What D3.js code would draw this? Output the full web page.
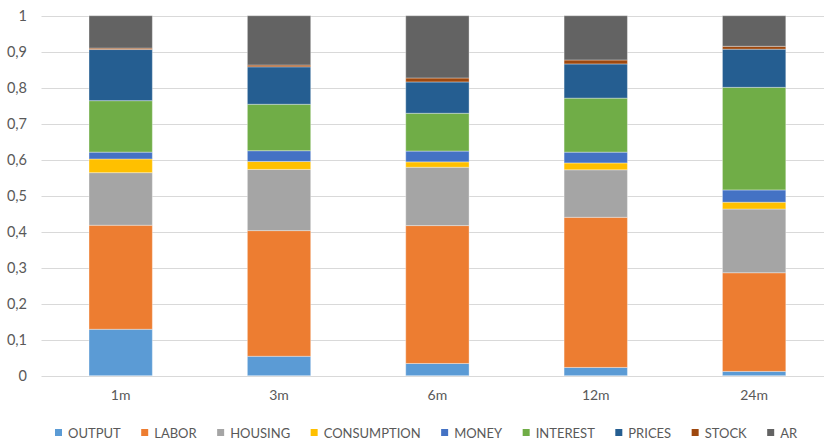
<!DOCTYPE html>
<html>
<head>
<meta charset="utf-8">
<script src="https://cdn.jsdelivr.net/npm/d3@7"></script>
<style>
  html, body { margin: 0; padding: 0; background: #ffffff; }
  svg { display: block; }
  text { font-family: Lato, "Open Sans", "Liberation Sans", sans-serif; }
</style>
</head>
<body>
<svg id="chart" width="824" height="446"></svg>
<script>
// ---- data ----
const categories = ["1m", "3m", "6m", "12m", "24m"];
const seriesNames = ["OUTPUT", "LABOR", "HOUSING", "CONSUMPTION", "MONEY", "INTEREST", "PRICES", "STOCK", "AR"];
const OUTPUT      = [0.129, 0.054, 0.034, 0.023, 0.012];
const LABOR       = [0.289, 0.349, 0.383, 0.417, 0.274];
const HOUSING     = [0.146, 0.170, 0.162, 0.132, 0.177];
const CONSUMPTION = [0.038, 0.022, 0.015, 0.019, 0.019];
const MONEY       = [0.019, 0.030, 0.030, 0.030, 0.034];
const INTEREST    = [0.143, 0.129, 0.105, 0.150, 0.285];
const PRICES      = [0.142, 0.104, 0.087, 0.095, 0.106];
const STOCK       = [0.004, 0.005, 0.011, 0.011, 0.008];
const AR          = [0.090, 0.137, 0.173, 0.123, 0.085];
const yTicks = [0, 0.1, 0.2, 0.3, 0.4, 0.5, 0.6, 0.7, 0.8, 0.9, 1];
const colors = ["#5B9BD5", "#ED7D31", "#A5A5A5", "#FFC000", "#4472C4", "#70AD47", "#255E91", "#9E480E", "#636363"];

const seriesValues = [OUTPUT, LABOR, HOUSING, CONSUMPTION, MONEY, INTEREST, PRICES, STOCK, AR];
const table = categories.map((c, i) => {
  const row = { cat: c };
  seriesNames.forEach((s, j) => row[s] = seriesValues[j][i]);
  return row;
});

// ---- layout ----
const svg = d3.select("#chart");
const plotLeft = 41.5, plotRight = 833.3, plotTop = 15.7, plotBottom = 375.7;

const x = d3.scaleBand().domain(categories).range([plotLeft, plotRight])
  .paddingInner(0.6).paddingOuter(0.3);
const y = d3.scaleLinear().domain([0, 1]).range([plotBottom, plotTop]);

// gridlines
svg.append("g").selectAll("line").data(yTicks).join("line")
  .attr("x1", plotLeft).attr("x2", plotRight)
  .attr("y1", d => Math.round(y(d)) + 0.5).attr("y2", d => Math.round(y(d)) + 0.5)
  .attr("stroke", "#D9D9D9").attr("stroke-width", 1);

// y axis labels
const yAxis = d3.axisLeft(y).tickValues(yTicks).tickSize(0).tickPadding(0)
  .tickFormat(d => String(+d.toFixed(1)).replace(".", ","));
const gy = svg.append("g").attr("transform", "translate(27,0)").call(yAxis);
gy.select(".domain").remove();
gy.selectAll("text").attr("fill", "#595959").style("font-size", "14.5px")
  .style("font-family", "Lato, 'Open Sans', sans-serif");

// stacked bars
const stack = d3.stack().keys(seriesNames);
const stacked = stack(table);
svg.append("g").selectAll("g").data(stacked).join("g")
  .attr("fill", (d, i) => colors[i])
  .selectAll("rect").data(d => d).join("rect")
  .attr("x", d => x(d.data.cat))
  .attr("width", x.bandwidth())
  .attr("y", d => y(d[1]))
  .attr("height", d => Math.max(0, y(d[0]) - y(d[1])))
  .attr("stroke", "rgba(255,255,255,0.35)").attr("stroke-width", 1);

// x axis labels
const xAxis = d3.axisBottom(x).tickSize(0).tickPadding(0);
const gx = svg.append("g").attr("transform", `translate(0,${plotBottom + 14})`).call(xAxis);
gx.select(".domain").remove();
gx.selectAll("text").attr("fill", "#595959").style("font-size", "14px")
  .style("font-family", "Lato, 'Open Sans', sans-serif");

// legend
const legend = svg.append("g");
const legendFont = 13;
let cx = 55;
const gap = 20.5;
seriesNames.forEach((name, i) => {
  const g = legend.append("g").attr("transform", `translate(${cx},0)`);
  g.append("rect").attr("x", 0).attr("y", 429).attr("width", 7).attr("height", 7).attr("fill", colors[i]);
  const t = g.append("text").attr("x", 13).attr("y", 437.5)
    .attr("fill", "#595959").style("font-size", legendFont + "px").text(name);
  const w = t.node().getComputedTextLength();
  cx += 13 + w + gap;
});
</script>
</body>
</html>
